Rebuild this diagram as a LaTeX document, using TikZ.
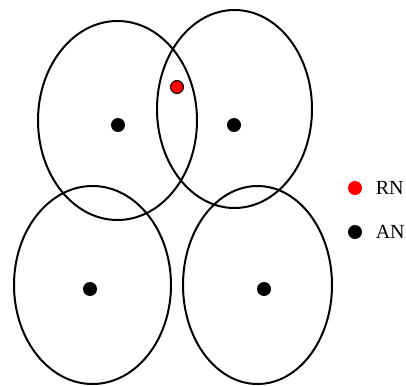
\documentclass[tikz,border=0pt]{standalone}
\usepackage{fontspec}
\setmainfont{Liberation Serif}
\usepackage{tikz}
\usetikzlibrary{shapes.geometric,positioning}

\begin{document}
\begin{tikzpicture}[
  x=0.5pt, y=-0.5pt,
  cover/.style={draw=black, line width=1pt, ellipse, inner sep=0pt},
  an/.style={circle, fill=black, inner sep=0pt, minimum size=7pt},
  rn/.style={circle, fill=red, draw=black, line width=0.5pt, inner sep=0pt,
             minimum size=6.5pt},
  legtxt/.style={inner sep=0pt, font=\fontsize{10}{12}\selectfont},
]
\useasboundingbox (0,0) rectangle (406,385);

%% Coverage areas
\node[cover, minimum width=79.5pt, minimum height=99.5pt] (cov1) at (117.5,120.5) {};
\node[cover, minimum width=77.5pt, minimum height=99pt]   (cov2) at (234.5,109) {};
\node[cover, minimum width=78.5pt, minimum height=99pt]   (cov3) at (92.5,285) {};
\node[cover, minimum width=74.5pt, minimum height=99pt]   (cov4) at (257.5,285) {};

%% Anchor nodes
\node[an] (an1) at (118,125) {};
\node[an] (an2) at (234,125) {};
\node[an] (an3) at (90,289) {};
\node[an] (an4) at (264,289) {};

%% Relay node
\node[rn] (rn1) at (177,87) {};

%% Legend
\node[an, fill=red] (legrn) at (355,188) {};
\node[legtxt, right=6.5pt of legrn] (legrntxt) {RN};
\node[an] (legan) at (355,232) {};
\node[legtxt, right=6.5pt of legan] (legantxt) {AN};

\end{tikzpicture}
\end{document}
